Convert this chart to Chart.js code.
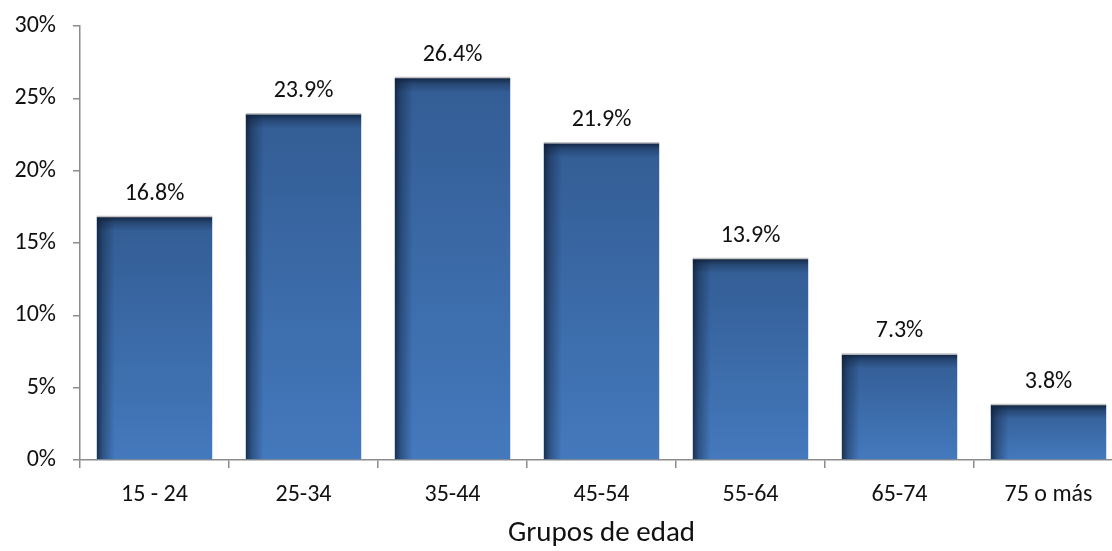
<!DOCTYPE html>
<html>
<head>
<meta charset="utf-8">
<script src="https://cdn.jsdelivr.net/npm/chart.js@4/dist/chart.umd.min.js"></script>
<style>
html,body{margin:0;padding:0;background:#fff;overflow:hidden;}
#wrap{position:relative;width:1123px;height:551px;}
</style>
</head>
<body>
<div id="wrap"><canvas id="c"></canvas></div>
<script>
const categories = ['15 - 24', '25-34', '35-44', '45-54', '55-64', '65-74', '75 o más'];
const values = [16.8, 23.9, 26.4, 21.9, 13.9, 7.3, 3.8];
const yTicks = [0, 5, 10, 15, 20, 25, 30];
const xTitle = 'Grupos de edad';

const FONT = "Carlito, Lato, 'Open Sans', sans-serif";

const barShade = {
  id: 'barShade',
  afterDatasetsDraw(chart) {
    const ctx = chart.ctx;
    const meta = chart.getDatasetMeta(0);
    meta.data.forEach((bar) => {
      const p = bar.getProps(['x', 'y', 'width', 'base'], true);
      const l = p.x - p.width / 2, r = p.x + p.width / 2, t = p.y, b = p.base;
      const h = b - t;
      ctx.save();
      ctx.beginPath(); ctx.rect(l, t, r - l, h); ctx.clip();
      let g = ctx.createLinearGradient(0, t, 0, b);
      g.addColorStop(0, 'rgba(10,25,50,0.30)');
      g.addColorStop(1, 'rgba(10,25,50,0.0)');
      ctx.fillStyle = g; ctx.fillRect(l, t, r - l, h);
      g = ctx.createLinearGradient(l, 0, l + 18, 0);
      g.addColorStop(0, 'rgba(15,30,55,0.8)');
      g.addColorStop(0.35, 'rgba(15,30,55,0.4)');
      g.addColorStop(1, 'rgba(15,30,55,0)');
      ctx.fillStyle = g; ctx.fillRect(l, t, 18, h);
      g = ctx.createLinearGradient(0, t, 0, t + 14);
      g.addColorStop(0, 'rgba(15,30,55,0.85)');
      g.addColorStop(0.4, 'rgba(15,30,55,0.35)');
      g.addColorStop(1, 'rgba(15,30,55,0)');
      ctx.fillStyle = g; ctx.fillRect(l, t, r - l, 14);
      ctx.restore();
      ctx.save();
      ctx.strokeStyle = '#c4c4c4';
      ctx.lineWidth = 1.5;
      ctx.beginPath(); ctx.moveTo(l, t - 0.5); ctx.lineTo(r, t - 0.5); ctx.stroke();
      ctx.restore();
    });
  }
};

const dataLabels = {
  id: 'dataLabels',
  afterDatasetsDraw(chart) {
    const ctx = chart.ctx;
    const meta = chart.getDatasetMeta(0);
    ctx.save();
    ctx.font = "24px " + FONT;
    ctx.fillStyle = '#111';
    ctx.textAlign = 'center';
    ctx.textBaseline = 'alphabetic';
    meta.data.forEach((bar, i) => {
      ctx.fillText(values[i].toFixed(1) + '%', bar.x, bar.y - 17);
    });
    ctx.restore();
  }
};

new Chart(document.getElementById('c'), {
  type: 'bar',
  data: {
    labels: categories,
    datasets: [{
      data: values,
      backgroundColor: '#4479bd',
      borderWidth: 0,
      categoryPercentage: 0.775,
      barPercentage: 1.0
    }]
  },
  options: {
    responsive: true,
    maintainAspectRatio: false,
    animation: false,
    events: [],
    layout: { padding: { top: 26, left: 0, right: 0, bottom: 0 } },
    plugins: { legend: { display: false }, tooltip: { enabled: false } },
    scales: {
      x: {
        grid: { drawOnChartArea: false, drawTicks: true, tickLength: 8, color: '#8c8c8c', lineWidth: 1.5, offset: true },
        border: { color: '#8c8c8c', width: 1.5 },
        ticks: { color: '#111', font: { size: 24, family: FONT }, padding: 13, maxRotation: 0 },
        title: { display: true, text: xTitle, color: '#111', font: { size: 29, family: FONT }, padding: { top: 0, bottom: 0 } },
        afterFit(s) { s.height = 91; s.paddingLeft = 0; s.paddingRight = 0; }
      },
      y: {
        min: 0, max: 30,
        afterBuildTicks(s) { s.ticks = yTicks.map(v => ({ value: v })); },
        grid: { drawOnChartArea: false, drawTicks: true, tickLength: 7, color: '#8c8c8c', lineWidth: 1.5 },
        border: { color: '#8c8c8c', width: 1.5 },
        ticks: { color: '#111', font: { size: 24, family: FONT }, padding: 17, callback: v => v + '%' },
        afterFit(s) { s.width = 80; s.paddingTop = 0; s.paddingBottom = 0; }
      }
    }
  },
  plugins: [barShade, dataLabels]
});
</script>
</body>
</html>
